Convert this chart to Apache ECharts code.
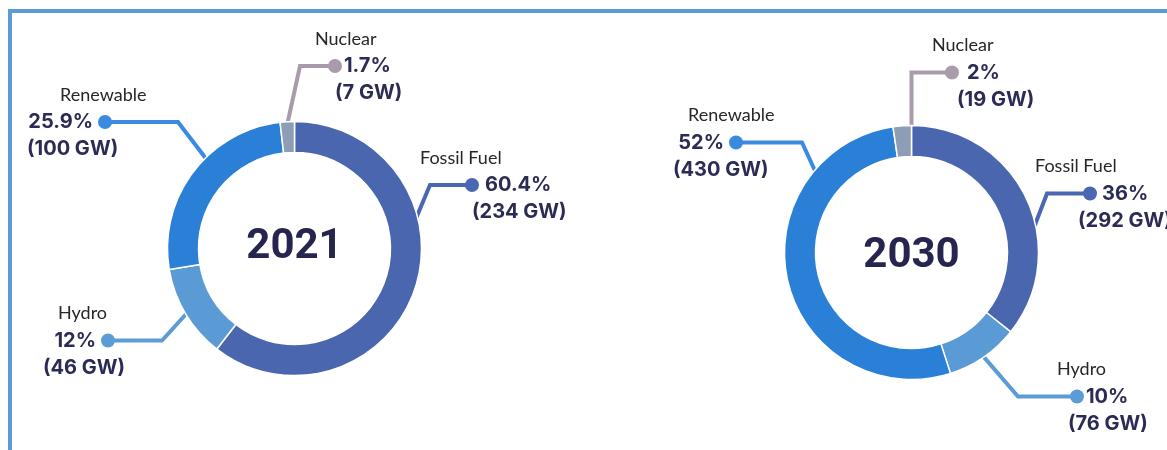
<!DOCTYPE html>
<html>
<head>
<meta charset="utf-8">
<script src="https://cdn.jsdelivr.net/npm/echarts@6/dist/echarts.min.js"></script>
<style>
html,body{margin:0;padding:0;background:#ffffff;}
#chart{width:1167px;height:450px;}
</style>
</head>
<body>
<div id="chart"></div>
<script>
// ---------- data ----------
const categories = ['Fossil Fuel', 'Hydro', 'Renewable', 'Nuclear'];
const years = ['2021', '2030'];
const capacity2021 = [234, 46, 100, 7];          // GW
const share2021 = ['60.4%', '12%', '25.9%', '1.7%'];
const capacity2030 = [292, 76, 430, 19];         // GW
const share2030 = ['36%', '10%', '52%', '2%'];

// ---------- styles / layout ----------
const sliceColors = ['#4966ae', '#5b9bd5', '#2a7fd6', '#8d9db6'];
const lineColors  = ['#4a67b1', '#5c9cd6', '#3a8ae0', '#a99bac'];
const R_OUT = 127, R_IN = 96, LH = 27;

const panels = [
  { center: [294.5, 248.5], yearY: 247, values: capacity2021, shares: share2021, labels: [
    { frac: 0.35, bend: [430, 183], dot: [472, 183], side: 'R', name: 420, pct: 485, gw: 472, pctY: 187 },
    { frac: 0.5,  bend: [162, 338], dot: [108, 338], side: 'L', name: 58,  pct: 62,  gw: 43,  pctY: 343 },
    { frac: 0.59, bend: [178, 121], dot: [105, 121], side: 'L', name: 60,  pct: 35,  gw: 27,  pctY: 123 },
    { frac: 0.5,  bend: [300, 64],  dot: [335, 64],  side: 'R', name: 315, pct: 343, gw: 335, pctY: 68 }
  ]},
  { center: [911.5, 252.5], yearY: 256, values: capacity2030, shares: share2030, labels: [
    { frac: 0.61, bend: [1047, 192], dot: [1090, 192], side: 'R', name: 1035, pct: 1102, gw: 1078, pctY: 195 },
    { frac: 0.5,  bend: [1018, 395], dot: [1077, 395], side: 'R', name: 1057, pct: 1085, gw: 1068, pctY: 398 },
    { frac: 0.78, bend: [802, 142],  dot: [736, 142],  side: 'L', name: 688,  pct: 685,  gw: 673,  pctY: 143 },
    { frac: 1.0,  bend: [911.5, 70], dot: [952, 70],   side: 'R', name: 932,  pct: 967,  gw: 957,  pctY: 75 }
  ]}
];

const nameStyle = { fontFamily: 'Lato, "Open Sans", sans-serif', fontSize: 18, color: '#262626', lineHeight: LH };
const numStyle  = { fontFamily: 'Inter, Roboto, sans-serif', fontWeight: 700, fontSize: 20, color: '#2b2b55', lineHeight: LH };

function blockLeft(l) {
  const dotLeft = l.dot[0] - 7;
  return Math.min(l.name, l.side === 'R' ? dotLeft : l.pct, l.gw) - 2;
}

function buildItem(panel, i) {
  const l = panel.labels[i];
  const L = blockLeft(l);
  const dotStyle = { width: 14, height: 14, borderRadius: 7, backgroundColor: lineColors[i], lineHeight: LH };
  const rich = {
    n: nameStyle,
    p: Object.assign({}, numStyle),
    g: numStyle,
    d: dotStyle,
    s1: { width: Math.max(1, l.name - L), lineHeight: LH },
    s4: { width: Math.max(1, l.gw - L), lineHeight: LH }
  };
  const label = { rich: rich };
  let pctLine;
  if (l.side === 'R') {
    rich.s2 = { width: Math.max(1, l.dot[0] - 7 - L), lineHeight: LH };
    rich.s3 = { width: Math.max(2, l.pct - (l.dot[0] + 7)), lineHeight: LH };
    pctLine = '{s2|}{d|}{s3|}{p|' + panel.shares[i] + '}';
  } else {
    // right-aligned tokens against the dot
    label.width = l.dot[0] + 7 - L;
    rich.p.align = 'right';
    rich.gp = { width: 5, align: 'right', lineHeight: LH };
    dotStyle.align = 'right';
    pctLine = '{p|' + panel.shares[i] + '}{gp|}{d|}';
  }
  label.formatter = '{s1|}{n|' + categories[i] + '}\n' + pctLine + '\n{s4|}{g|(' + panel.values[i] + ' GW)}';
  return {
    name: categories[i],
    value: panel.values[i],
    itemStyle: { color: sliceColors[i] },
    label: label,
    labelLine: { lineStyle: { color: lineColors[i] } }
  };
}

function makeSeries(panel) {
  const total = panel.values.reduce((a, b) => a + b, 0);
  return {
    type: 'pie',
    center: panel.center,
    radius: [R_IN, R_OUT],
    startAngle: 90,
    clockwise: true,
    avoidLabelOverlap: false,
    silent: true,
    emphasis: { disabled: true },
    itemStyle: { borderColor: '#ffffff', borderWidth: 1.5 },
    label: { show: true, position: 'outside', lineHeight: LH, overflow: 'none' },
    labelLine: { show: true, lineStyle: { width: 4 } },
    labelLayout: function (p) {
      const i = p.dataIndex;
      const l = panel.labels[i];
      let before = 0;
      for (let k = 0; k < i; k++) before += panel.values[k];
      const angDeg = (before + l.frac * panel.values[i]) / total * 360;
      const a = angDeg * Math.PI / 180;
      const r = R_OUT - 2;
      const start = [panel.center[0] + r * Math.sin(a), panel.center[1] - r * Math.cos(a)];
      const y = (l.dot[1] + l.pctY) / 2;
      return {
        x: blockLeft(l),
        y: y,
        align: 'left',
        verticalAlign: 'middle',
        labelLinePoints: [start, [l.bend[0], y], [l.dot[0], y]]
      };
    },
    data: panel.values.map((v, i) => buildItem(panel, i))
  };
}

const chart = echarts.init(document.getElementById('chart'), null, { renderer: 'canvas' });
chart.setOption({
  backgroundColor: '#ffffff',
  animation: false,
  graphic: [
    { type: 'rect', z: -10, shape: { x: 10, y: 11, width: 1400, height: 700 },
      style: { fill: 'none', stroke: '#5b9bd6', lineWidth: 4 } },
    { type: 'text', x: panels[0].center[0], y: panels[0].yearY, z: 10,
      style: { text: years[0], align: 'center', verticalAlign: 'middle',
               font: '700 42px Roboto, Inter, sans-serif', fill: '#25254f' } },
    { type: 'text', x: panels[1].center[0], y: panels[1].yearY, z: 10,
      style: { text: years[1], align: 'center', verticalAlign: 'middle',
               font: '700 42px Roboto, Inter, sans-serif', fill: '#25254f' } }
  ],
  series: panels.map(makeSeries)
});
</script>
</body>
</html>
